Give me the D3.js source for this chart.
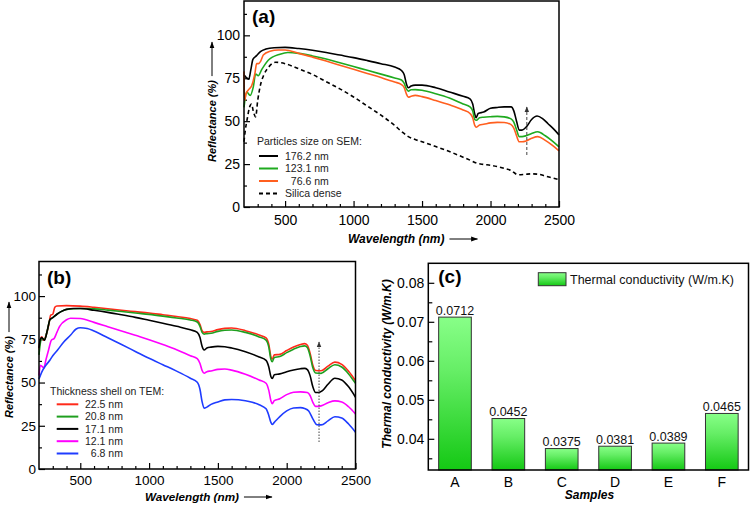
<!DOCTYPE html>
<html><head><meta charset="utf-8">
<script src="https://cdn.jsdelivr.net/npm/d3@7"></script>
<style>
body{margin:0;background:#fff;}
svg{display:block;font-family:"Liberation Sans",Arial,sans-serif;}
</style></head><body>
<svg id="chart" width="750" height="505"></svg>
<script>
// ---------------- DATA ----------------
// Panel (a): reflectance vs wavelength, particle size on SEM
const a_176 = [[200,77],[215,75.5],[235,74.5],[250,80],[265,86],[290,88],[320,90.5],[360,92],[420,92.8],[500,93],[600,92.3],[700,91.3],[800,90],[900,88.5],[1000,87],[1100,85.3],[1200,83.5],[1300,81.5],[1350,79.5],[1370,77],[1385,72],[1400,69.5],[1420,70.5],[1450,71],[1500,71],[1600,69.5],[1700,67],[1800,64.5],[1850,63],[1870,60],[1885,54],[1895,52],[1910,54.5],[1950,55.3],[2000,57.5],[2050,58],[2100,58.3],[2150,58.3],[2170,56],[2190,50],[2210,44.8],[2230,44.8],[2260,46.5],[2300,51],[2340,53],[2380,51.5],[2420,48.5],[2460,45.5],[2500,42]];
const a_123 = [[200,58],[220,67],[245,65],[268,70],[285,77.5],[304,76.5],[329,80],[377,85.5],[463,89],[520,90],[600,89.5],[700,88],[800,86.2],[900,84],[1000,81.8],[1100,79.6],[1200,77.4],[1300,75.2],[1350,74],[1370,72],[1385,69],[1400,67.5],[1420,68.3],[1450,68.4],[1500,68],[1600,66],[1700,63.5],[1800,60],[1850,58.3],[1870,56],[1885,51],[1897,50.5],[1920,52],[1950,52.3],[2000,52.6],[2050,52.8],[2100,52.5],[2150,51.3],[2170,49.5],[2190,45],[2210,41],[2230,41],[2260,41.5],[2300,42.8],[2345,43.8],[2400,41.5],[2450,38.5],[2500,35]];
const a_76 = [[200,79],[204,62],[215,66],[235,68.5],[255,70.5],[280,78],[292,83.5],[305,83.5],[322,85],[341,88.5],[390,90.7],[450,91.5],[500,91.5],[600,89.5],[700,87.3],[800,85],[900,82.6],[1000,80.2],[1100,77.8],[1200,75.4],[1300,72.8],[1350,71.3],[1370,69.5],[1385,66],[1400,64],[1420,64.5],[1450,65],[1500,64.3],[1600,62],[1700,59.5],[1800,56.5],[1850,54.5],[1870,52],[1885,47.5],[1897,46.5],[1920,47.8],[1950,48.2],[2000,49],[2050,49.3],[2100,49.2],[2150,48],[2170,46],[2190,41.5],[2210,38],[2230,38],[2260,38.5],[2300,40],[2345,41],[2400,38.8],[2450,36],[2500,32.7]];
const a_silica = [[200,38],[210,45],[225,52],[240,58],[255,60],[270,55],[285,52.5],[300,62],[320,71],[345,77],[380,81.5],[430,84.3],[500,83.5],[600,80.5],[700,77.2],[800,73],[900,68.8],[1000,64.1],[1100,58.8],[1200,53.5],[1300,47.5],[1350,44],[1400,41],[1450,39.3],[1500,38],[1600,35.2],[1700,32.3],[1800,29],[1850,27.3],[1900,25.5],[1950,24.8],[2000,24.3],[2050,23.5],[2100,22.5],[2150,21.3],[2200,18.8],[2250,19],[2300,19.3],[2350,19.1],[2400,18],[2450,17],[2500,16]];
const aLabels = ["176.2 nm","123.1 nm","\u00a0\u00a076.6 nm","Silica dense"];
const aColors = ["#000000","#1faa1f","#ff5f1f","#000000"];
const aLegendTitle = "Particles size on SEM:";

// Panel (b): reflectance vs wavelength, shell thickness on TEM
const b_225 = [[200,69],[210,75],[220,76.5],[235,74.5],[250,77],[270,83],[285,89],[300,89.5],[315,93.5],[330,94.3],[400,94.5],[500,94.2],[600,93.5],[700,92.7],[800,91.8],[900,91],[1000,90.2],[1100,89.2],[1200,88.2],[1300,87],[1350,86],[1370,83.5],[1385,80],[1400,79],[1420,79.3],[1450,79.5],[1500,80.6],[1550,81.3],[1600,81.5],[1700,80],[1800,77.5],[1850,75.8],[1870,72],[1885,65],[1895,63.5],[1910,66],[1950,66.3],[2000,68.5],[2050,70.5],[2100,72],[2130,72.5],[2150,71.5],[2170,67],[2190,60],[2210,57],[2250,56.8],[2300,59.5],[2350,61.8],[2400,60.5],[2450,56.5],[2500,51]];
const b_208 = [[200,66],[210,73],[220,75.5],[240,75],[260,80],[280,86.5],[300,87.5],[330,89.5],[360,91],[400,92.3],[500,92.8],[600,92.6],[700,91.9],[800,91.1],[900,90.2],[1000,89.4],[1100,88.4],[1200,87.3],[1300,86.2],[1350,85],[1370,82.5],[1385,79],[1400,78],[1420,78.3],[1450,78.5],[1500,79.6],[1550,80.2],[1600,80.4],[1700,79],[1800,76.4],[1850,74.5],[1870,70.5],[1885,63.5],[1895,62],[1910,64.5],[1950,65],[2000,67.3],[2050,69.3],[2100,70.8],[2130,71.2],[2150,70.2],[2170,65.5],[2190,58.5],[2210,55.5],[2250,55.3],[2300,58],[2350,60.3],[2400,59],[2450,55],[2500,49.5]];
const b_171 = [[200,70],[210,75],[220,76],[240,74.5],[260,80],[280,86.5],[300,87.5],[330,89.5],[360,91],[400,92.3],[450,92.8],[500,92.8],[600,91.8],[700,90.6],[800,89.2],[900,87.7],[1000,86],[1100,84.3],[1200,82.5],[1300,80.5],[1350,79],[1370,76],[1385,71],[1400,68.8],[1420,70],[1450,70.5],[1500,70.9],[1550,70.7],[1600,70],[1700,67.8],[1800,64.8],[1850,62.8],[1870,59],[1885,53.5],[1895,52.3],[1910,54.5],[1950,55],[2000,56.3],[2050,57.3],[2100,58],[2130,58.2],[2150,57.5],[2170,54],[2190,47.5],[2210,44.2],[2230,44.2],[2260,45.3],[2300,49],[2350,52.5],[2400,51.5],[2450,47.5],[2500,41.5]];
const b_121 = [[200,54],[210,60],[220,59.5],[235,58.5],[250,63],[270,69],[290,74.5],[310,75.5],[330,79],[350,82.5],[400,86.3],[430,87.2],[500,87],[600,84.8],[700,82.3],[800,79.8],[900,77.3],[1000,74.8],[1100,72],[1200,69],[1300,65.5],[1350,63.8],[1370,61],[1385,57],[1400,55.4],[1420,56.3],[1450,56.7],[1500,57.6],[1550,57.8],[1600,57.2],[1700,54.8],[1800,51.5],[1850,49.6],[1870,45.5],[1885,39.5],[1895,37.8],[1910,39.5],[1950,40.6],[2000,43],[2050,44.4],[2100,44.6],[2150,44.2],[2170,42.5],[2190,38.5],[2210,36.2],[2250,36.5],[2300,38.3],[2350,39.4],[2400,38.8],[2450,36],[2500,31.8]];
const b_68 = [[200,52],[220,56],[250,60],[280,63],[300,65.5],[335,68.8],[380,73.5],[430,77.5],[470,81],[500,81.7],[550,81.3],[600,79.8],[700,75.9],[800,72],[900,68],[1000,64],[1100,60.3],[1200,56.6],[1300,52.5],[1350,50.2],[1370,46],[1385,39],[1400,35.2],[1420,35.8],[1450,37.4],[1500,38.8],[1550,40],[1600,40.2],[1700,39.5],[1750,38.6],[1800,37.2],[1850,34.8],[1870,31],[1885,27],[1895,25.8],[1910,27],[1950,30.3],[2000,33.6],[2050,35.3],[2100,35.5],[2130,35],[2160,33.5],[2190,29],[2220,25.6],[2250,25.5],[2300,27.8],[2350,30.2],[2400,29.5],[2450,26],[2500,21.3]];
const bLabels = ["22.5 nm","20.8 nm","17.1 nm","12.1 nm","\u00a0\u00a06.8 nm"];
const bColors = ["#ff2a1a","#1f9f1f","#000000","#ff00ff","#1f3cff"];
const bLegendTitle = "Thickness shell on TEM:";

// shared axis ticks for spectra
const wlTicks = [500,1000,1500,2000,2500];
const reflTicks = [0,25,50,75,100];

// Panel (c): thermal conductivity
const samples = ["A","B","C","D","E","F"];
const conductivity = [0.0712,0.0452,0.0375,0.0381,0.0389,0.0465];
const condTicks = [0.04,0.05,0.06,0.07,0.08];
const condMinor = [0.035,0.045,0.055,0.065,0.075];
const cLegend = "Thermal conductivity (W/m.K)";

// ---------------- DRAW ----------------
const svg = d3.select("#chart");
const defs = svg.append("defs");
defs.append("marker").attr("id","arr").attr("viewBox","0 0 10 10").attr("refX",9).attr("refY",5)
  .attr("markerWidth",7).attr("markerHeight",7).attr("orient","auto")
  .append("path").attr("d","M0,1.5L10,5L0,8.5z").attr("fill","#000");
defs.append("marker").attr("id","arrg").attr("viewBox","0 0 10 10").attr("refX",9).attr("refY",5)
  .attr("markerWidth",6).attr("markerHeight",8).attr("markerUnits","userSpaceOnUse").attr("orient","auto")
  .append("path").attr("d","M0,1L10,5L0,9z").attr("fill","#333");
const grad = defs.append("linearGradient").attr("id","bargrad").attr("x1",0).attr("y1",0).attr("x2",0).attr("y2",1);
grad.append("stop").attr("offset","0").attr("stop-color","#88ff88");
grad.append("stop").attr("offset","0.35").attr("stop-color","#66ee66");
grad.append("stop").attr("offset","1").attr("stop-color","#14c814");

function styleAxis(sel, fs){
  sel.select(".domain").remove();
  sel.attr("font-family",null).attr("font-size",null);
  sel.selectAll("text").attr("font-size",fs).attr("fill","#000");
  sel.selectAll("line").attr("stroke","#000").attr("stroke-width",1.2);
}

function arrowLabelX(x0, yb, text, fs, arrowLen){
  const t = svg.append("text").attr("x",x0).attr("y",yb).attr("font-size",fs)
    .attr("font-weight","bold").attr("font-style","italic").text(text);
  const w = t.node().getComputedTextLength();
  svg.append("line").attr("x1",x0+w+5).attr("x2",x0+w+5+arrowLen).attr("y1",yb-4).attr("y2",yb-4)
    .attr("stroke","#000").attr("stroke-width",1).attr("marker-end","url(#arr)");
}
function arrowLabelY(xb, y0, text, fs, arrowLen){
  const t = svg.append("text").attr("transform",`translate(${xb},${y0}) rotate(-90)`).attr("font-size",fs)
    .attr("font-weight","bold").attr("font-style","italic").text(text);
  const w = t.node().getComputedTextLength();
  svg.append("line").attr("x1",xb-4).attr("x2",xb-4).attr("y1",y0-w-4).attr("y2",y0-w-4-arrowLen)
    .attr("stroke","#000").attr("stroke-width",1).attr("marker-end","url(#arr)");
}

function spectrumPanel(cfg){
  const x = d3.scaleLinear().domain([200,2500]).range([cfg.x0,cfg.x1]);
  const y = d3.scaleLinear().domain([0,120]).range([cfg.y1,cfg.y0]);
  const g = svg.append("g");
  // minor ticks
  g.append("g").attr("transform",`translate(0,${cfg.y1})`)
    .call(d3.axisBottom(x).tickValues(d3.range(300,2500,100).filter(v=>v%500!==0)).tickSize(-3).tickFormat(""))
    .call(s=>styleAxis(s,cfg.fs));
  g.append("g").attr("transform",`translate(${cfg.x0},0)`)
    .call(d3.axisLeft(y).tickValues([12.5,37.5,62.5,87.5,112.5]).tickSize(-3).tickFormat(""))
    .call(s=>styleAxis(s,cfg.fs));
  // major ticks
  g.append("g").attr("transform",`translate(0,${cfg.y1})`)
    .call(d3.axisBottom(x).tickValues(wlTicks).tickSize(-6).tickPadding(cfg.xpad).tickFormat(d3.format("d")))
    .call(s=>styleAxis(s,cfg.fs));
  g.append("g").attr("transform",`translate(${cfg.x0},0)`)
    .call(d3.axisLeft(y).tickValues(reflTicks).tickSize(-6).tickPadding(cfg.ypad).tickFormat(d3.format("d")))
    .call(s=>styleAxis(s,cfg.fs));
  // lines
  const line = d3.line().x(d=>x(d[0])).y(d=>y(d[1])).curve(d3.curveMonotoneX);
  cfg.series.forEach((s,i)=>{
    g.append("path").datum(s).attr("d",line).attr("fill","none")
      .attr("stroke",cfg.colors[i]).attr("stroke-width",1.6)
      .attr("stroke-dasharray",cfg.dashed && cfg.dashed[i] ? "4,3" : null)
      .attr("stroke-linejoin","round");
  });
  // frame
  g.append("rect").attr("x",cfg.x0).attr("y",cfg.y0).attr("width",cfg.x1-cfg.x0).attr("height",cfg.y1-cfg.y0)
    .attr("fill","none").attr("stroke","#000").attr("stroke-width",1.5);
  // panel letter
  g.append("text").attr("x",cfg.x0+8).attr("y",cfg.y0+cfg.letterDy).attr("font-size",19).attr("font-weight","bold").text(cfg.letter);
  // arrow inside plot
  g.append("line").attr("x1",x(cfg.arrowX)).attr("x2",x(cfg.arrowX)).attr("y1",cfg.arrowY1).attr("y2",cfg.arrowY2)
    .attr("stroke","#444").attr("stroke-width",1).attr("stroke-dasharray",cfg.arrowDash).attr("marker-end","url(#arrg)");
  // legend
  const L = cfg.legend;
  g.append("text").attr("x",L.tx).attr("y",L.ty).attr("font-size",10.5).attr("fill","#222").text(L.title);
  cfg.labels.forEach((lab,i)=>{
    const yy = L.y0 + i*L.dy;
    g.append("line").attr("x1",L.lx0).attr("x2",L.lx1).attr("y1",yy).attr("y2",yy)
      .attr("stroke",cfg.colors[i]).attr("stroke-width",2)
      .attr("stroke-dasharray",cfg.dashed && cfg.dashed[i] ? "4,3" : null);
    g.append("text").attr("x",L.textX).attr("y",yy+3.8).attr("font-size",10.5).attr("fill","#222").text(lab);
  });
}

spectrumPanel({
  x0:244, x1:559, y0:1, y1:207, xpad:8, ypad:4, fs:14, letter:"(a)", letterDy:22,
  series:[a_176,a_123,a_76,a_silica], colors:aColors, dashed:[false,false,false,true], labels:aLabels,
  arrowX:2265, arrowY1:155, arrowY2:107, arrowDash:"3,2",
  legend:{title:aLegendTitle, tx:257, ty:145, y0:156, dy:12.5, lx0:259, lx1:278, textX:285}
});
arrowLabelX(348, 243, "Wavelength (nm)", 12, 28);
arrowLabelY(216, 162, "Reflectance (%)", 11, 34);

spectrumPanel({
  x0:39, x1:355.5, y0:261.5, y1:469, xpad:6.5, ypad:3, fs:13.5, letter:"(b)", letterDy:22.5,
  series:[b_225,b_208,b_171,b_121,b_68], colors:bColors, dashed:null, labels:bLabels,
  arrowX:2235, arrowY1:442, arrowY2:342, arrowDash:"1.5,1.5",
  legend:{title:bLegendTitle, tx:50, ty:394.5, y0:404.3, dy:12.3, lx0:56.7, lx1:78.3, textX:85}
});
arrowLabelX(145, 501, "Wavelength (nm)", 11.7, 28);
arrowLabelY(13, 418, "Reflectance (%)", 11, 30);

// Panel (c)
(function(){
  const x0=428.3, x1=748.5, y0=263.3, y1=470;
  const x = d3.scaleBand().domain(samples).range([x0,x1]).paddingInner(0.388).paddingOuter(0.194);
  const y = d3.scaleLinear().domain([0.032,0.085]).range([y1,y0]);
  const g = svg.append("g");
  g.append("g").attr("transform",`translate(${x0},0)`)
    .call(d3.axisLeft(y).tickValues(condMinor).tickSize(-4).tickFormat(""))
    .call(s=>styleAxis(s,14));
  g.append("g").attr("transform",`translate(${x0},0)`)
    .call(d3.axisLeft(y).tickValues(condTicks).tickSize(-6).tickPadding(4).tickFormat(d3.format(".2f")))
    .call(s=>styleAxis(s,14));
  g.append("g").attr("transform",`translate(0,${y1})`)
    .call(d3.axisBottom(x).tickSize(-5).tickPadding(7))
    .call(s=>styleAxis(s,14));
  const data = samples.map((s,i)=>({s, v:conductivity[i]}));
  g.selectAll("rect.bar").data(data).join("rect").attr("class","bar")
    .attr("x",d=>x(d.s)).attr("width",x.bandwidth())
    .attr("y",d=>y(d.v)).attr("height",d=>y1-y(d.v))
    .attr("fill","url(#bargrad)").attr("stroke","#333").attr("stroke-width",1);
  g.selectAll("text.val").data(data).join("text").attr("class","val")
    .attr("x",d=>x(d.s)+x.bandwidth()/2).attr("y",d=>y(d.v)-2.5)
    .attr("text-anchor","middle").attr("font-size",12.5).attr("fill","#111")
    .text(d=>d.v.toFixed(4));
  g.append("rect").attr("x",x0).attr("y",y0).attr("width",x1-x0).attr("height",y1-y0)
    .attr("fill","none").attr("stroke","#000").attr("stroke-width",1.5);
  g.append("text").attr("x",x0+10).attr("y",y0+20).attr("font-size",19).attr("font-weight","bold").text("(c)");
  // legend
  g.append("rect").attr("x",538.3).attr("y",272.7).attr("width",27.7).attr("height",13)
    .attr("fill","url(#bargrad)").attr("stroke","#333").attr("stroke-width",1);
  g.append("text").attr("x",570).attr("y",284).attr("font-size",12.5).attr("fill","#111").text(cLegend);
  // axis titles
  svg.append("text").attr("x",(x0+x1)/2 + 1).attr("y",499).attr("text-anchor","middle")
    .attr("font-size",12).attr("font-weight","bold").attr("font-style","italic").text("Samples");
  svg.append("text").attr("transform",`translate(391,364) rotate(-90)`).attr("text-anchor","middle")
    .attr("font-size",12).attr("font-weight","bold").attr("font-style","italic").text("Thermal conductivity (W/m.K)");
})();
</script>
</body></html>
